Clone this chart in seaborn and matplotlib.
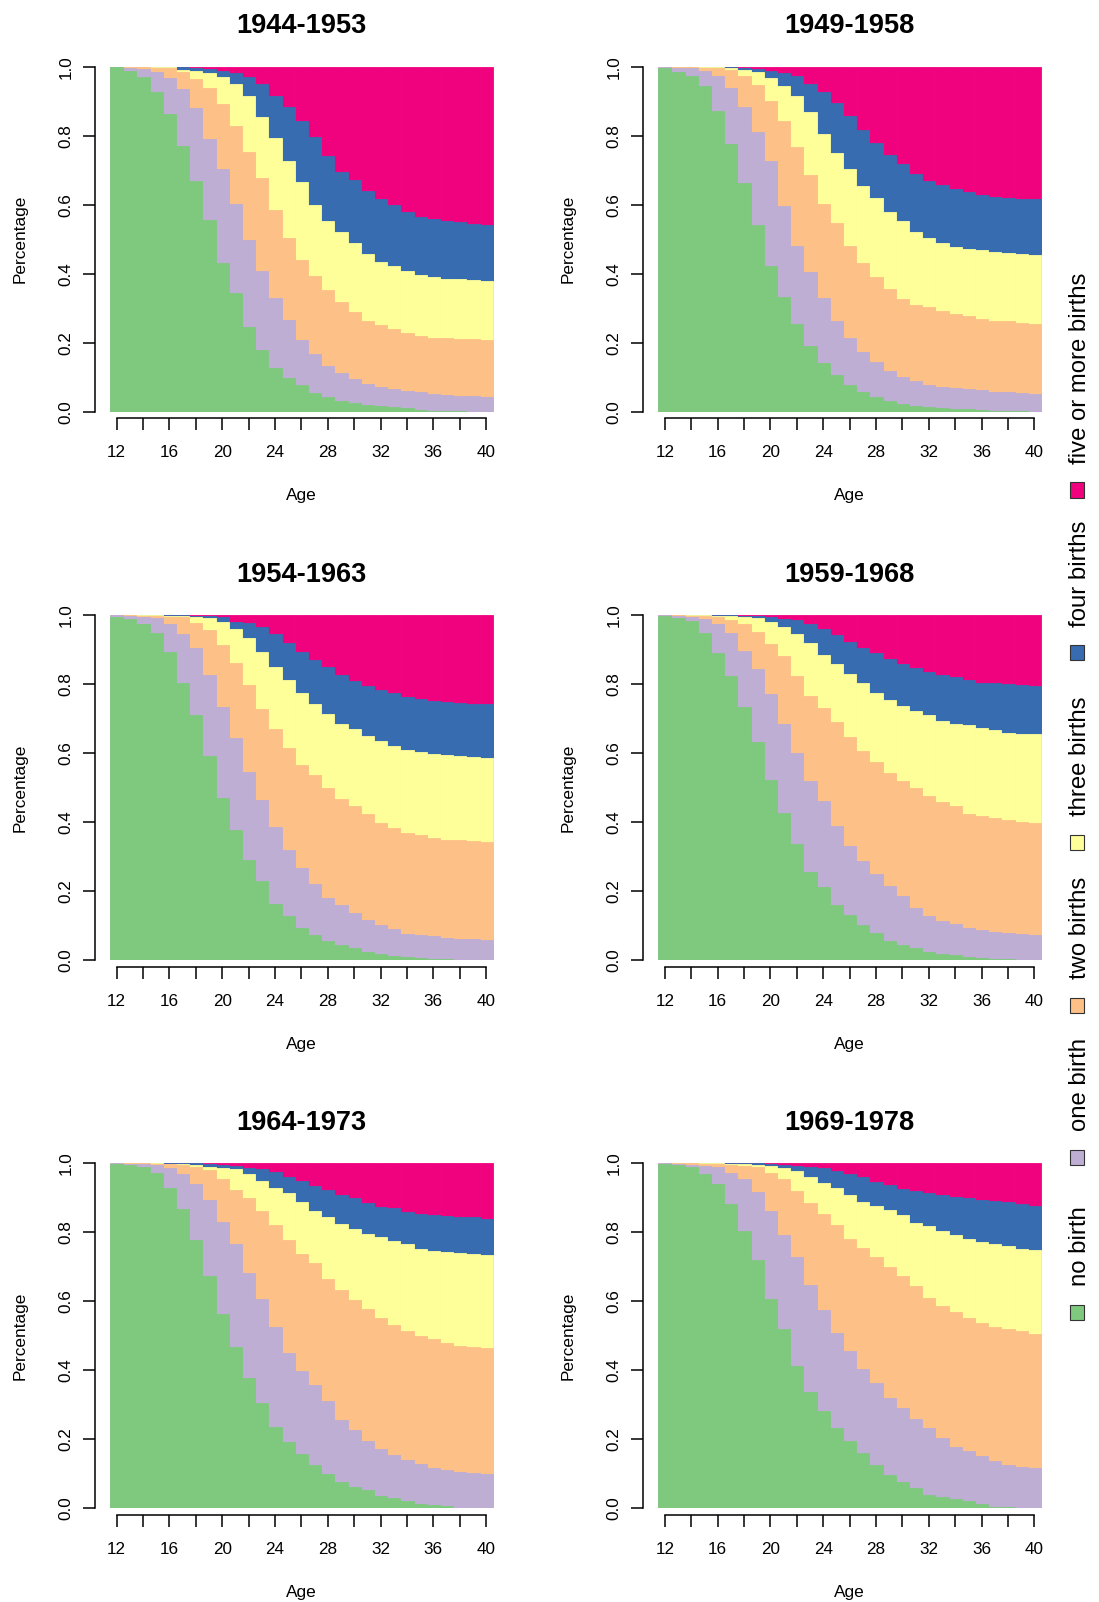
import matplotlib
matplotlib.use("Agg")
import matplotlib.pyplot as plt
import seaborn as sns
from matplotlib.patches import Rectangle

# ---------------- data ----------------
AGES = list(range(12, 41))
STATES = ["no birth", "one birth", "two births", "three births",
          "four births", "five or more births"]
COLORS = ["#7FC97F", "#BEAED4", "#FDC086", "#FFFF99", "#386CB0", "#F0027F"]
COHORTS = ["1944-1953", "1949-1958", "1954-1963",
           "1959-1968", "1964-1973", "1969-1978"]

# cumulative share of women with at most k births, by age 12..40
c4453_upto0 = [0.998, 0.988, 0.969, 0.928, 0.864, 0.770, 0.669, 0.557, 0.431, 0.345, 0.246, 0.180, 0.128, 0.099, 0.076,
               0.054, 0.042, 0.031, 0.025, 0.020, 0.017, 0.015, 0.011, 0.005, 0.002, 0.001, 0.001, 0.0, 0.0]
c4453_upto1 = [1.0, 0.995, 0.993, 0.986, 0.966, 0.935, 0.879, 0.790, 0.703, 0.601, 0.497, 0.408, 0.330, 0.266, 0.208,
               0.167, 0.133, 0.111, 0.095, 0.081, 0.072, 0.067, 0.059, 0.056, 0.052, 0.048, 0.046, 0.045, 0.044]
c4453_upto2 = [1.0, 1.0, 0.998, 0.997, 0.995, 0.986, 0.964, 0.938, 0.893, 0.828, 0.753, 0.677, 0.586, 0.503, 0.441,
               0.393, 0.352, 0.318, 0.288, 0.264, 0.251, 0.240, 0.228, 0.220, 0.215, 0.214, 0.212, 0.210, 0.209]
c4453_upto3 = [1.0, 1.0, 1.0, 0.999, 0.998, 0.991, 0.988, 0.983, 0.969, 0.951, 0.914, 0.854, 0.792, 0.728, 0.665,
               0.599, 0.554, 0.522, 0.490, 0.458, 0.434, 0.422, 0.409, 0.396, 0.390, 0.386, 0.384, 0.381, 0.379]
c4453_upto4 = [1.0, 1.0, 1.0, 1.0, 0.999, 0.998, 0.997, 0.994, 0.988, 0.983, 0.971, 0.949, 0.916, 0.883, 0.844,
               0.796, 0.742, 0.695, 0.671, 0.640, 0.617, 0.599, 0.578, 0.565, 0.560, 0.553, 0.549, 0.544, 0.540]

c4958_upto0 = [0.995, 0.985, 0.974, 0.945, 0.872, 0.775, 0.663, 0.541, 0.421, 0.333, 0.255, 0.189, 0.142, 0.106, 0.078,
               0.057, 0.044, 0.031, 0.021, 0.016, 0.014, 0.011, 0.009, 0.007, 0.005, 0.003, 0.002, 0.001, 0.0]
c4958_upto1 = [1.0, 0.997, 0.995, 0.987, 0.974, 0.939, 0.882, 0.811, 0.727, 0.595, 0.480, 0.404, 0.331, 0.262, 0.215,
               0.172, 0.145, 0.118, 0.102, 0.090, 0.078, 0.072, 0.070, 0.066, 0.062, 0.058, 0.056, 0.053, 0.050]
c4958_upto2 = [1.0, 1.0, 0.998, 0.997, 0.995, 0.990, 0.973, 0.947, 0.901, 0.843, 0.766, 0.685, 0.603, 0.547, 0.481,
               0.430, 0.389, 0.356, 0.328, 0.310, 0.303, 0.293, 0.283, 0.276, 0.269, 0.263, 0.262, 0.257, 0.255]
c4958_upto3 = [1.0, 1.0, 1.0, 1.0, 0.999, 0.997, 0.991, 0.984, 0.968, 0.945, 0.916, 0.869, 0.806, 0.751, 0.703,
               0.653, 0.620, 0.578, 0.552, 0.521, 0.503, 0.490, 0.477, 0.471, 0.468, 0.462, 0.459, 0.457, 0.455]
c4958_upto4 = [1.0, 1.0, 1.0, 1.0, 1.0, 0.999, 0.997, 0.994, 0.988, 0.983, 0.973, 0.949, 0.926, 0.895, 0.858,
               0.816, 0.780, 0.744, 0.718, 0.688, 0.670, 0.657, 0.646, 0.636, 0.628, 0.623, 0.620, 0.617, 0.616]

c5463_upto0 = [0.996, 0.989, 0.975, 0.949, 0.894, 0.804, 0.711, 0.592, 0.470, 0.378, 0.292, 0.230, 0.164, 0.128, 0.095,
               0.074, 0.057, 0.043, 0.036, 0.025, 0.018, 0.013, 0.010, 0.007, 0.005, 0.004, 0.002, 0.001, 0.0]
c5463_upto1 = [1.0, 0.997, 0.994, 0.991, 0.974, 0.945, 0.905, 0.826, 0.735, 0.644, 0.545, 0.464, 0.385, 0.321, 0.268,
               0.221, 0.180, 0.159, 0.136, 0.117, 0.103, 0.092, 0.077, 0.072, 0.069, 0.065, 0.062, 0.061, 0.059]
c5463_upto2 = [1.0, 1.0, 0.999, 0.997, 0.996, 0.994, 0.977, 0.956, 0.913, 0.861, 0.798, 0.728, 0.670, 0.614, 0.565,
               0.536, 0.500, 0.468, 0.446, 0.425, 0.397, 0.384, 0.368, 0.362, 0.354, 0.350, 0.348, 0.346, 0.343]
c5463_upto3 = [1.0, 1.0, 1.0, 1.0, 0.999, 0.998, 0.996, 0.991, 0.982, 0.960, 0.933, 0.893, 0.849, 0.813, 0.776,
               0.744, 0.713, 0.686, 0.671, 0.650, 0.635, 0.622, 0.611, 0.604, 0.598, 0.594, 0.591, 0.589, 0.586]
c5463_upto4 = [1.0, 1.0, 1.0, 1.0, 1.0, 1.0, 0.999, 0.997, 0.995, 0.981, 0.979, 0.965, 0.945, 0.921, 0.895,
               0.871, 0.849, 0.828, 0.811, 0.794, 0.783, 0.776, 0.763, 0.758, 0.752, 0.748, 0.745, 0.742, 0.742]

c5968_upto0 = [0.998, 0.991, 0.984, 0.950, 0.892, 0.825, 0.733, 0.632, 0.523, 0.426, 0.337, 0.257, 0.212, 0.159, 0.130,
               0.103, 0.078, 0.057, 0.045, 0.035, 0.025, 0.018, 0.015, 0.010, 0.006, 0.004, 0.003, 0.002, 0.001]
c5968_upto1 = [1.0, 0.997, 0.994, 0.990, 0.974, 0.949, 0.896, 0.843, 0.772, 0.685, 0.600, 0.520, 0.461, 0.388, 0.330,
               0.288, 0.249, 0.214, 0.185, 0.153, 0.127, 0.115, 0.106, 0.095, 0.089, 0.082, 0.078, 0.076, 0.074]
c5968_upto2 = [1.0, 1.0, 0.999, 0.998, 0.994, 0.986, 0.975, 0.953, 0.917, 0.881, 0.825, 0.767, 0.730, 0.691, 0.646,
               0.606, 0.575, 0.542, 0.519, 0.500, 0.477, 0.459, 0.448, 0.425, 0.417, 0.412, 0.406, 0.401, 0.399]
c5968_upto3 = [1.0, 1.0, 1.0, 1.0, 0.999, 0.998, 0.995, 0.991, 0.980, 0.966, 0.945, 0.919, 0.885, 0.858, 0.831,
               0.804, 0.775, 0.755, 0.736, 0.722, 0.711, 0.694, 0.686, 0.681, 0.674, 0.668, 0.660, 0.657, 0.655]
c5968_upto4 = [1.0, 1.0, 1.0, 1.0, 1.0, 1.0, 0.999, 0.997, 0.995, 0.990, 0.985, 0.975, 0.961, 0.942, 0.923,
               0.906, 0.892, 0.874, 0.858, 0.848, 0.836, 0.827, 0.821, 0.812, 0.805, 0.803, 0.801, 0.798, 0.795]

c6473_upto0 = [0.998, 0.995, 0.988, 0.971, 0.928, 0.867, 0.777, 0.673, 0.562, 0.468, 0.379, 0.304, 0.237, 0.193, 0.158,
               0.125, 0.100, 0.076, 0.061, 0.052, 0.037, 0.030, 0.020, 0.013, 0.009, 0.006, 0.002, 0.0, 0.0]
c6473_upto1 = [1.0, 0.998, 0.997, 0.995, 0.985, 0.970, 0.939, 0.893, 0.829, 0.765, 0.682, 0.608, 0.525, 0.449, 0.397,
               0.356, 0.312, 0.256, 0.226, 0.196, 0.173, 0.154, 0.139, 0.127, 0.117, 0.111, 0.106, 0.103, 0.100]
c6473_upto2 = [1.0, 1.0, 1.0, 0.999, 0.998, 0.995, 0.990, 0.981, 0.955, 0.924, 0.898, 0.862, 0.820, 0.777, 0.737,
               0.711, 0.664, 0.633, 0.603, 0.578, 0.551, 0.530, 0.514, 0.500, 0.490, 0.478, 0.470, 0.467, 0.464]
c6473_upto3 = [1.0, 1.0, 1.0, 1.0, 0.999, 0.997, 0.995, 0.990, 0.987, 0.984, 0.969, 0.949, 0.929, 0.913, 0.889,
               0.863, 0.843, 0.823, 0.811, 0.796, 0.787, 0.775, 0.765, 0.753, 0.747, 0.742, 0.739, 0.736, 0.734]
c6473_upto4 = [1.0, 1.0, 1.0, 1.0, 1.0, 1.0, 1.0, 0.999, 0.995, 0.991, 0.985, 0.983, 0.976, 0.959, 0.949,
               0.934, 0.922, 0.908, 0.898, 0.886, 0.874, 0.869, 0.858, 0.852, 0.849, 0.847, 0.844, 0.843, 0.840]

c6978_upto0 = [0.998, 0.996, 0.990, 0.968, 0.940, 0.882, 0.803, 0.719, 0.606, 0.521, 0.412, 0.336, 0.281, 0.234, 0.194,
               0.161, 0.125, 0.097, 0.076, 0.058, 0.039, 0.032, 0.026, 0.021, 0.013, 0.005, 0.003, 0.001, 0.0]
c6978_upto1 = [1.0, 0.999, 0.996, 0.993, 0.990, 0.973, 0.955, 0.917, 0.862, 0.792, 0.728, 0.647, 0.575, 0.507, 0.456,
               0.404, 0.364, 0.320, 0.290, 0.260, 0.234, 0.205, 0.179, 0.165, 0.151, 0.138, 0.126, 0.121, 0.118]
c6978_upto2 = [1.0, 1.0, 1.0, 0.998, 0.997, 0.995, 0.993, 0.989, 0.971, 0.954, 0.919, 0.884, 0.852, 0.821, 0.780,
               0.754, 0.728, 0.699, 0.674, 0.643, 0.610, 0.587, 0.568, 0.552, 0.538, 0.526, 0.520, 0.513, 0.505]
c6978_upto3 = [1.0, 1.0, 1.0, 1.0, 1.0, 0.998, 0.997, 0.995, 0.992, 0.987, 0.979, 0.961, 0.944, 0.927, 0.907,
               0.889, 0.875, 0.864, 0.849, 0.828, 0.818, 0.803, 0.791, 0.781, 0.771, 0.765, 0.759, 0.752, 0.748]
c6978_upto4 = [1.0, 1.0, 1.0, 1.0, 1.0, 1.0, 1.0, 1.0, 0.998, 0.995, 0.992, 0.988, 0.985, 0.979, 0.968,
               0.961, 0.946, 0.936, 0.925, 0.919, 0.914, 0.907, 0.903, 0.898, 0.894, 0.892, 0.888, 0.883, 0.877]

ALL_BIRTHS = [1.0] * len(AGES)   # top of the stack (at most 5+ births)

CUM = {
    "1944-1953": [c4453_upto0, c4453_upto1, c4453_upto2, c4453_upto3, c4453_upto4, ALL_BIRTHS],
    "1949-1958": [c4958_upto0, c4958_upto1, c4958_upto2, c4958_upto3, c4958_upto4, ALL_BIRTHS],
    "1954-1963": [c5463_upto0, c5463_upto1, c5463_upto2, c5463_upto3, c5463_upto4, ALL_BIRTHS],
    "1959-1968": [c5968_upto0, c5968_upto1, c5968_upto2, c5968_upto3, c5968_upto4, ALL_BIRTHS],
    "1964-1973": [c6473_upto0, c6473_upto1, c6473_upto2, c6473_upto3, c6473_upto4, ALL_BIRTHS],
    "1969-1978": [c6978_upto0, c6978_upto1, c6978_upto2, c6978_upto3, c6978_upto4, ALL_BIRTHS],
}

# ---------------- figure ----------------
sns.set_theme(style="white")
plt.rcParams["font.family"] = ["Liberation Sans", "DejaVu Sans"]

W, H = 1099, 1602
fig = plt.figure(figsize=(W / 100, H / 100), dpi=100)

PLOT_W = 382.7          # px width of the bar region
PAD = 15.3              # px of R-style x padding on each side
AX_H = 345.0
col_left = [110.0, 658.3]
row_top = [66.7, 615.3, 1163.3]
pad_units = PAD / (PLOT_W / len(AGES))

for i, cohort in enumerate(COHORTS):
    r, c = divmod(i, 2)
    left = col_left[c] - PAD
    ax = fig.add_axes([left / W, 1 - (row_top[r] + AX_H) / H,
                       (PLOT_W + 2 * PAD) / W, AX_H / H])
    layers = CUM[cohort]
    for k in range(len(STATES) - 1, -1, -1):
        sns.barplot(x=AGES, y=layers[k], color=COLORS[k], width=1.0,
                    saturation=1, errorbar=None, edgecolor=COLORS[k],
                    linewidth=0.6, ax=ax)
    n = len(AGES)
    ax.set_xlim(-0.5 - pad_units, n - 0.5 + pad_units)
    ax.set_ylim(0, 1)
    ax.grid(False)
    for s in ("top", "right"):
        ax.spines[s].set_visible(False)
    for s in ("left", "bottom"):
        ax.spines[s].set_color("black")
        ax.spines[s].set_linewidth(1.1)
    ax.spines["left"].set_bounds(0, 1)
    ax.spines["bottom"].set_bounds(0, n - 1)
    ax.spines["bottom"].set_position(("outward", 4.8))

    xt = list(range(0, n, 2))
    ax.set_xticks(xt)
    ax.set_xticklabels([str(AGES[p]) if (AGES[p] - 12) % 4 == 0 else "" for p in xt])
    yt = [0.0, 0.2, 0.4, 0.6, 0.8, 1.0]
    ax.set_yticks(yt)
    ax.set_yticklabels([f"{v:.1f}" for v in yt], rotation=90, va="center")
    ax.tick_params(axis="both", length=8.4, width=1.1, color="black",
                   labelsize=12.3, labelcolor="black", direction="out",
                   bottom=True, left=True)
    ax.tick_params(axis="x", pad=11.0)
    ax.tick_params(axis="y", pad=7.0)
    ax.set_xlabel("")
    ax.set_ylabel("")

    ax.text(0.5, 1 + 33.7 / AX_H, cohort, transform=ax.transAxes,
            ha="center", va="baseline", fontsize=19.6, fontweight="bold",
            color="black")
    ax.text(0.5, -88.3 / AX_H, "Age", transform=ax.transAxes,
            ha="center", va="baseline", fontsize=12.4, color="black")
    ax.text(-70.0 / (PLOT_W + 2 * PAD), 0.5, "Percentage", transform=ax.transAxes,
            rotation=90, rotation_mode="anchor", ha="center", va="baseline",
            fontsize=12.4, color="black")

# ---------------- legend (rotated, right margin) ----------------
LEG_Y = [1312, 1157, 1005, 842, 653, 490]   # square centres (px from top)
for k, state in enumerate(STATES):
    yc = LEG_Y[k]
    fig.add_artist(Rectangle(((1077 - 7) / W, 1 - (yc + 7.5) / H), 14 / W, 15 / H,
                             transform=fig.transFigure, facecolor=COLORS[k],
                             edgecolor="#333333", linewidth=0.8))
    fig.text(1086 / W, 1 - (yc - 26) / H, state, rotation=90,
             rotation_mode="anchor", ha="left", va="baseline",
             fontsize=17.2, color="black")

fig.savefig("out.png", dpi=100)
